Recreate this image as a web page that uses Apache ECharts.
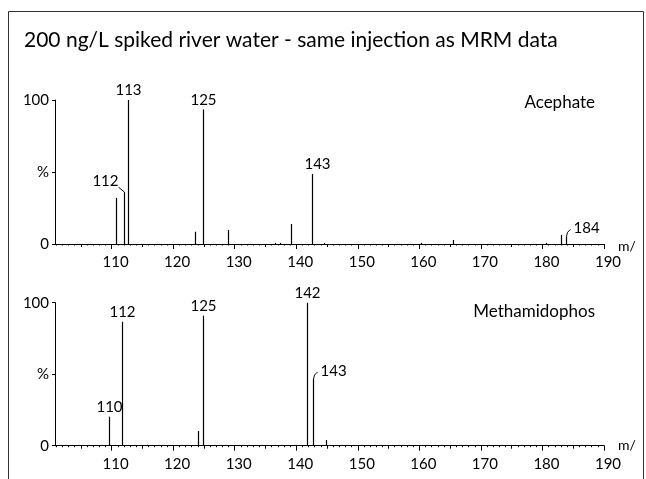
<!DOCTYPE html>
<html>
<head>
<meta charset="utf-8">
<script src="https://cdn.jsdelivr.net/npm/echarts@6/dist/echarts.min.js"></script>
<style>
  html, body { margin: 0; padding: 0; background: #fff; }
  #chart { width: 646px; height: 479px; }
</style>
</head>
<body>
<div id="chart"></div>
<script>
// Mass spectra (m/z vs relative intensity %) for two compounds
const acephateMz        = [110.7, 111.95, 112.7, 123.5, 124.8, 128.9, 136.6, 137.3, 139.1, 142.6, 144.5, 160.3, 165.5, 180.6, 183.05, 183.8];
const acephateIntensity = [32,    36,     100,   8.5,   93.5,  9.7,   0.8,   0.8,   13.9,  48.6,  0.6,   0.8,   2.8,   0.8,   6.3,    5.3];
const acephateLabels    = ['',    '112',  '113', '',    '125', '',    '',    '',    '',    '143', '',    '',    '',    '',    '',     '184'];

const methamidophosMz        = [109.6, 111.7, 115.7, 124.0, 124.8, 141.8, 142.8, 144.8, 160.5, 176.0];
const methamidophosIntensity = [20.3,  86.7,  0.6,   10.3,  90.9,  100,   46.6,  4,     0.5,   0.5];
const methamidophosLabels    = ['110', '112', '',    '',    '125', '142', '143', '',    '',    ''];

const xTickLabels = [110, 120, 130, 140, 150, 160, 170, 180, 190];
const xMidTicks   = [105, 115, 125, 135, 145, 155, 165, 175, 185];
const yTickValues = [0, 50, 100];

const titleText = '200 ng/L spiked river water - same injection as MRM data';
const compoundNames = ['Acephate', 'Methamidophos'];

// how a peak label sits relative to its stick
const labelPlacement = {
  'Acephate:112': 'leaderLeft',
  'Acephate:143': 'nudgeRight',
  'Acephate:184': 'leaderRight',
  'Methamidophos:143': 'leaderRight'
};

const FONT = 'Lato, "Noto Sans", sans-serif';
const X_MIN = 100.8, X_MAX = 190;

const minorTicks = [];
for (let v = 101; v <= 190; v++) minorTicks.push(v);

const grids = [
  { left: 55, top: 100, width: 549, height: 144 },
  { left: 55, top: 302.7, width: 549, height: 143 }
];

function xAxesFor(gridIndex) {
  const base = { type: 'value', gridIndex, min: X_MIN, max: X_MAX, position: 'bottom', splitLine: { show: false } };
  return [
    Object.assign({}, base, {
      axisLine: { show: true, lineStyle: { color: '#000', width: 1 } },
      axisTick: { show: true, customValues: xTickLabels, length: 5, lineStyle: { color: '#000', width: 1 } },
      axisLabel: { show: true, customValues: xTickLabels, color: '#000', fontFamily: FONT, fontSize: 15, margin: 11, padding: [0, 0, 0, 8] }
    }),
    Object.assign({}, base, {
      axisLine: { show: false },
      axisTick: { show: true, customValues: xMidTicks, length: 3, lineStyle: { color: '#000', width: 1 } },
      axisLabel: { show: false }
    }),
    Object.assign({}, base, {
      axisLine: { show: false },
      axisTick: { show: true, customValues: minorTicks, length: 1.5, lineStyle: { color: '#000', width: 1 } },
      axisLabel: { show: false }
    })
  ];
}

function yAxisFor(gridIndex) {
  return {
    type: 'value', gridIndex, min: 0, max: 100,
    splitLine: { show: false },
    axisLine: { show: true, lineStyle: { color: '#000', width: 1 } },
    axisTick: { show: true, customValues: yTickValues, length: 3, lineStyle: { color: '#000' } },
    axisLabel: {
      show: true, customValues: yTickValues, color: '#000', fontFamily: FONT, fontSize: 15, margin: 6,
      formatter: v => (v === 50 ? '%' : String(v))
    }
  };
}

function makeRenderer(name, labels) {
  return function (params, api) {
    const x = api.value(0), y = api.value(1);
    const b = api.coord([x, 0]);
    const t = api.coord([x, y]);
    const px = Math.round(b[0]) + 0.5;
    const children = [{
      type: 'line',
      shape: { x1: px, y1: b[1], x2: px, y2: t[1] },
      style: { stroke: '#000', lineWidth: 1.2 }
    }];
    const text = labels[params.dataIndex];
    if (text) {
      const mode = labelPlacement[name + ':' + text] || 'above';
      const ts = { fill: '#000', font: '15px ' + FONT, text };
      if (mode === 'above') {
        children.push({ type: 'text', x: px, y: t[1] - 2, style: Object.assign(ts, { align: 'center', verticalAlign: 'bottom' }) });
      } else if (mode === 'nudgeRight') {
        children.push({ type: 'text', x: px + 5, y: t[1] - 2, style: Object.assign(ts, { align: 'center', verticalAlign: 'bottom' }) });
      } else if (mode === 'leaderLeft') {
        children.push({ type: 'polyline', shape: { points: [[px, t[1]], [px - 6, t[1] - 5]] }, style: { stroke: '#000', lineWidth: 1, fill: null } });
        children.push({ type: 'text', x: px - 6, y: t[1] - 4, style: Object.assign(ts, { align: 'right', verticalAlign: 'bottom' }) });
      } else if (mode === 'leaderRight') {
        children.push({ type: 'polyline', shape: { points: [[px, t[1]], [px + 1, t[1] - 4], [px + 4, t[1] - 7]] }, style: { stroke: '#000', lineWidth: 1, fill: null } });
        children.push({ type: 'text', x: px + 7, y: t[1] - 8, style: Object.assign(ts, { align: 'left', verticalAlign: 'middle' }) });
      }
    }
    return { type: 'group', children };
  };
}

function zip(a, b) { return a.map((v, i) => [v, b[i]]); }

const chart = echarts.init(document.getElementById('chart'), null, { renderer: 'canvas' });

chart.setOption({
  backgroundColor: '#fff',
  animation: false,
  grid: grids,
  xAxis: [].concat(xAxesFor(0), xAxesFor(1)),
  yAxis: [yAxisFor(0), yAxisFor(1)],
  series: [
    {
      type: 'custom', name: compoundNames[0], xAxisIndex: 0, yAxisIndex: 0,
      renderItem: makeRenderer(compoundNames[0], acephateLabels),
      data: zip(acephateMz, acephateIntensity), clip: false
    },
    {
      type: 'custom', name: compoundNames[1], xAxisIndex: 3, yAxisIndex: 1,
      renderItem: makeRenderer(compoundNames[1], methamidophosLabels),
      data: zip(methamidophosMz, methamidophosIntensity), clip: false
    }
  ],
  graphic: [
    { type: 'rect', shape: { x: 8.5, y: 11.5, width: 635, height: 480 }, style: { fill: null, stroke: '#333', lineWidth: 1 }, silent: true },
    { type: 'text', left: 24, top: 30, style: { text: titleText, fill: '#000', font: '21px ' + FONT } },
    { type: 'text', right: 51, top: 94, style: { text: compoundNames[0], fill: '#000', font: '17px ' + FONT } },
    { type: 'text', right: 51, top: 303, style: { text: compoundNames[1], fill: '#000', font: '17px ' + FONT } },
    { type: 'text', left: 618, top: 239, style: { text: 'm/', fill: '#000', font: '14px ' + FONT } },
    { type: 'text', left: 618, top: 438, style: { text: 'm/', fill: '#000', font: '14px ' + FONT } }
  ]
});
</script>
</body>
</html>
